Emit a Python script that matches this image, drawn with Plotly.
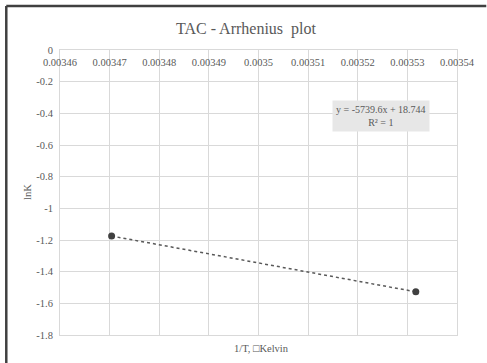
import numpy as np
import plotly.graph_objects as go

# Arrhenius data: reciprocal temperature (1/K) and ln of the rate constant
inv_T = [0.0034704, 0.0035317]
ln_K = [-1.175, -1.527]

x_ticks = [0.00346, 0.00347, 0.00348, 0.00349, 0.00350, 0.00351, 0.00352, 0.00353, 0.00354]
x_tick_labels = ["0.00346", "0.00347", "0.00348", "0.00349", "0.0035",
                 "0.00351", "0.00352", "0.00353", "0.00354"]
y_ticks = [0, -0.2, -0.4, -0.6, -0.8, -1.0, -1.2, -1.4, -1.6, -1.8]
y_tick_labels = ["0", "-0.2", "-0.4", "-0.6", "-0.8", "-1", "-1.2", "-1.4", "-1.6", "-1.8"]

W, H = 487, 363
ML, MR, MT, MB = 59.5, 24.7, 50, 28
PW, PH = W - ML - MR, H - MT - MB

FONT = "Liberation Serif, Times New Roman, serif"
TXT = "#595959"
GRID = "#d9d9d9"

# Linear trendline fitted to the points
slope, intercept = np.polyfit(inv_T, ln_K, 1)
fit_x = np.array([min(inv_T), max(inv_T)])
fit_y = slope * fit_x + intercept

fig = go.Figure()
fig.add_trace(go.Scatter(
    x=fit_x, y=fit_y, mode="lines",
    line=dict(color="#595959", width=1.5, dash="dot"),
    hoverinfo="skip", showlegend=False,
))
fig.add_trace(go.Scatter(
    x=inv_T, y=ln_K, mode="markers",
    marker=dict(color="#404040", size=7),
    showlegend=False,
))


def px_x(p):
    return (p - ML) / PW


def px_y(p):
    return (H - MB - p) / PH


# Outer chart frame (left and top edges)
frame = dict(color="#404040", width=2.5)
fig.add_shape(type="line", xref="paper", yref="paper",
              x0=px_x(5), x1=px_x(5), y0=px_y(6), y1=px_y(H + 5), line=frame)
fig.add_shape(type="line", xref="paper", yref="paper",
              x0=px_x(5), x1=px_x(W + 5), y0=px_y(6), y1=px_y(6), line=frame)

fig.add_annotation(
    text="y = -5739.6x + 18.744<br>R² = 1",
    xref="paper", yref="paper", x=px_x(385), y=px_y(116),
    xanchor="center", yanchor="middle", showarrow=False, align="center",
    bgcolor="#e7e7e7", borderpad=3,
    font=dict(family=FONT, size=10, color=TXT),
)
fig.add_annotation(
    text="1/T, \u25a1Kelvin", xref="paper", yref="paper",
    x=px_x(264), y=px_y(348), xanchor="center", yanchor="middle",
    showarrow=False, font=dict(family=FONT, size=10.5, color=TXT),
)
fig.add_annotation(
    text="lnK", xref="paper", yref="paper",
    x=px_x(26), y=px_y(192), xanchor="center", yanchor="middle",
    textangle=-90, showarrow=False, font=dict(family=FONT, size=10.5, color=TXT),
)

fig.update_layout(
    width=W, height=H,
    margin=dict(l=ML, r=MR, t=MT, b=MB),
    paper_bgcolor="white", plot_bgcolor="white",
    font=dict(family=FONT, color=TXT),
    title=dict(text="TAC - Arrhenius  plot", x=0.505, xanchor="center",
               y=1 - 28 / H, yanchor="middle", yref="container",
               font=dict(family=FONT, size=16, color=TXT)),
    xaxis=dict(
        range=[0.00346, 0.00354], tickvals=x_ticks, ticktext=x_tick_labels,
        side="top", ticklabelposition="inside",
        ticks="inside", ticklen=8, tickcolor="rgba(0,0,0,0)",
        ticklabeloverflow="allow",
        showgrid=True, gridcolor=GRID, gridwidth=1,
        showline=True, linecolor=GRID, mirror=True, zeroline=False,
        tickfont=dict(family=FONT, size=10.5, color=TXT),
    ),
    yaxis=dict(
        range=[-1.8, 0], tickvals=y_ticks, ticktext=y_tick_labels, ticks="",
        ticklabeloverflow="allow", ticklabelstandoff=4,
        showgrid=True, gridcolor=GRID, gridwidth=1,
        showline=True, linecolor=GRID, mirror=True, zeroline=False,
        tickfont=dict(family=FONT, size=10.5, color=TXT),
    ),
)

fig.write_html("out.html")
